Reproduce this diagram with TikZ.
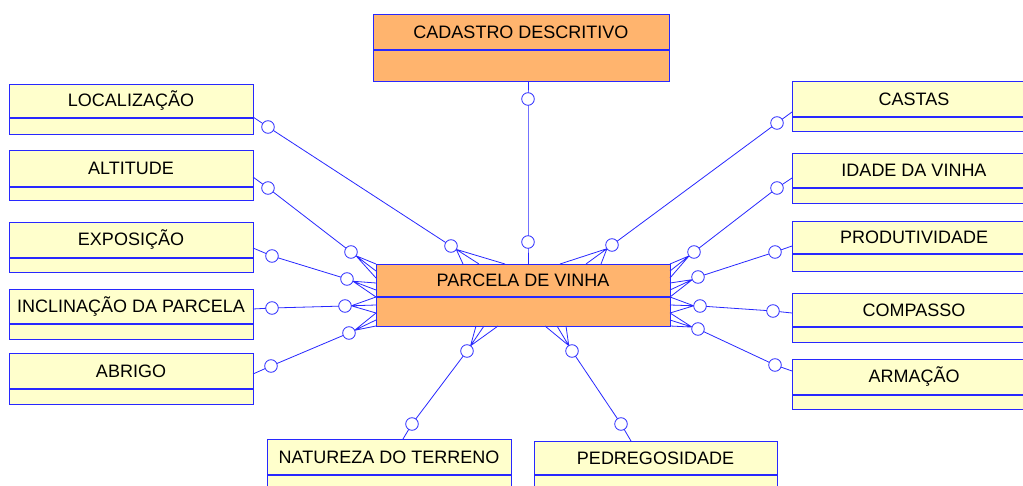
\documentclass[tikz,border=0pt]{standalone}
\usepackage{fontspec}
\setmainfont{Liberation Sans}
\usetikzlibrary{calc}
\definecolor{entyel}{RGB}{255,255,204}
\definecolor{entorg}{RGB}{255,180,110}
\definecolor{lnblue}{RGB}{40,40,255}
\tikzset{
  ln/.style={draw=lnblue, line width=0.8pt},
  boxln/.style={draw=lnblue, line width=1pt},
  divln/.style={draw=lnblue, line width=1.1pt},
  cir/.style={circle, draw=lnblue, line width=0.8pt, fill=white, minimum size=12.6pt, inner sep=0pt},
  lbl/.style={font=\fontsize{18}{20}\selectfont, text=black, inner sep=0pt}
}
% #1 name, #2 x1, #3 y1, #4 x2, #5 ydiv, #6 y2, #7 fill, #8 text
\newcommand\entbox[8]{%
  \node[boxln, fill=#7, rectangle, anchor=north west, inner sep=0pt,
        minimum width={(#4-#2)*1pt}, minimum height={(#6-#3)*1pt}] (#1) at (#2,#3) {};
  \draw[divln] (#2,#5) -- (#4,#5);
  \node[lbl] (#1t) at ({(#2+#4)/2},{(#3+#5)/2}) {#8};
}
\newcommand\crowfoot[4]{%
  \coordinate (tmpapex) at ($(#1)!6.3pt!#3$);
  \draw[ln] (tmpapex) -- #2 (tmpapex) -- #3 (tmpapex) -- #4;
}
\begin{document}
\begin{tikzpicture}[x=1pt,y=-1pt]
\useasboundingbox (0,0) rectangle (1023,486);
\clip (0,0) rectangle (1023,486);
\fill[white] (0,0) rectangle (1023,486);

% entities
\entbox{cad}{373}{14}{669}{50}{81}{entorg}{CADASTRO DESCRITIVO}
\entbox{pv}{376}{264}{670}{297}{326}{entorg}{PARCELA DE VINHA}
\entbox{loc}{9}{84}{253}{118}{134}{entyel}{LOCALIZAÇÃO}
\entbox{alt}{9}{150}{253}{187}{200}{entyel}{ALTITUDE}
\entbox{exp}{9}{222}{253}{258}{272}{entyel}{EXPOSIÇÃO}
\entbox{inc}{9}{289}{253}{324}{339}{entyel}{INCLINAÇÃO DA PARCELA}
\entbox{abr}{9}{353}{253}{389}{404}{entyel}{ABRIGO}
\entbox{cas}{792}{81}{1036}{117}{131}{entyel}{CASTAS}
\entbox{ida}{792}{153}{1036}{188}{203}{entyel}{IDADE DA VINHA}
\entbox{pro}{792}{221}{1036}{254}{271}{entyel}{PRODUTIVIDADE}
\entbox{com}{792}{293}{1036}{327}{342}{entyel}{COMPASSO}
\entbox{arm}{792}{359}{1036}{395}{409}{entyel}{ARMAÇÃO}
\entbox{nat}{267}{439}{511}{475}{492}{entyel}{NATUREZA DO TERRENO}
\entbox{ped}{534}{441}{777}{475}{492}{entyel}{PEDREGOSIDADE}

% attachment points on the outer entities
\coordinate (cadp) at (528,81);
\coordinate (cadq) at (528,264);
\coordinate (locp) at (253,117);
\coordinate (altp) at (253,177);
\coordinate (expp) at (253,248);
\coordinate (incp) at (253,309);
\coordinate (abrp) at (253,374);
\coordinate (casp) at (792,112);
\coordinate (idap) at (792,178);
\coordinate (prop) at (792,246);
\coordinate (comp) at (792,313);
\coordinate (armp) at (792,371);
\coordinate (natp) at (403,439);
\coordinate (pedp) at (631,441);

% circle positions
\coordinate (cadA) at (528,99);  \coordinate (cadB) at (528,242);
\coordinate (locA) at (268,127); \coordinate (locB) at (451,246);
\coordinate (altA) at (268,188); \coordinate (altB) at (351,252);
\coordinate (expA) at (272,256); \coordinate (expB) at (347,279);
\coordinate (incA) at (272,308); \coordinate (incB) at (345,306);
\coordinate (abrA) at (271,366); \coordinate (abrB) at (349,333);
\coordinate (casA) at (777,123); \coordinate (casB) at (612,245);
\coordinate (idaA) at (777,188); \coordinate (idaB) at (694,252);
\coordinate (proA) at (775,252); \coordinate (proB) at (698,277);
\coordinate (comA) at (773,311); \coordinate (comB) at (700,306);
\coordinate (armA) at (775,365); \coordinate (armB) at (698,329);
\coordinate (natA) at (412,424); \coordinate (natB) at (467,351);
\coordinate (pedA) at (621,424); \coordinate (pedB) at (572,351);

% connector lines
\draw[ln] (cadp) -- (cadA) -- (cadB) -- (cadq);
\foreach \n in {loc,alt,exp,inc,abr,cas,ida,pro,com,arm,nat,ped}{
  \draw[ln] (\n p) -- (\n A) -- (\n B);
}

% crow's feet
\crowfoot{locB}{(463,264)}{(479,264)}{(505,264)}
\crowfoot{casB}{(560,264)}{(586,264)}{(601,264)}
\crowfoot{altB}{(376,264)}{(376,271)}{(376,278)}
\crowfoot{expB}{(376,283)}{(376,290)}{(376,297)}
\crowfoot{incB}{(376,297)}{(376,305)}{(376,313)}
\crowfoot{abrB}{(376,313)}{(376,320)}{(376,326)}
\crowfoot{idaB}{(670,264)}{(670,271)}{(670,278)}
\crowfoot{proB}{(670,283)}{(670,290)}{(670,297)}
\crowfoot{comB}{(670,297)}{(670,305)}{(670,313)}
\crowfoot{armB}{(670,313)}{(670,320)}{(670,326)}
\crowfoot{natB}{(476,326)}{(484,326)}{(498,326)}
\crowfoot{pedB}{(545,326)}{(557,326)}{(566,326)}

% circles
\foreach \n in {cad,loc,alt,exp,inc,abr,cas,ida,pro,com,arm,nat,ped}{
  \node[cir] (\n ca) at (\n A) {};
  \node[cir] (\n cb) at (\n B) {};
}
\end{tikzpicture}
\end{document}
